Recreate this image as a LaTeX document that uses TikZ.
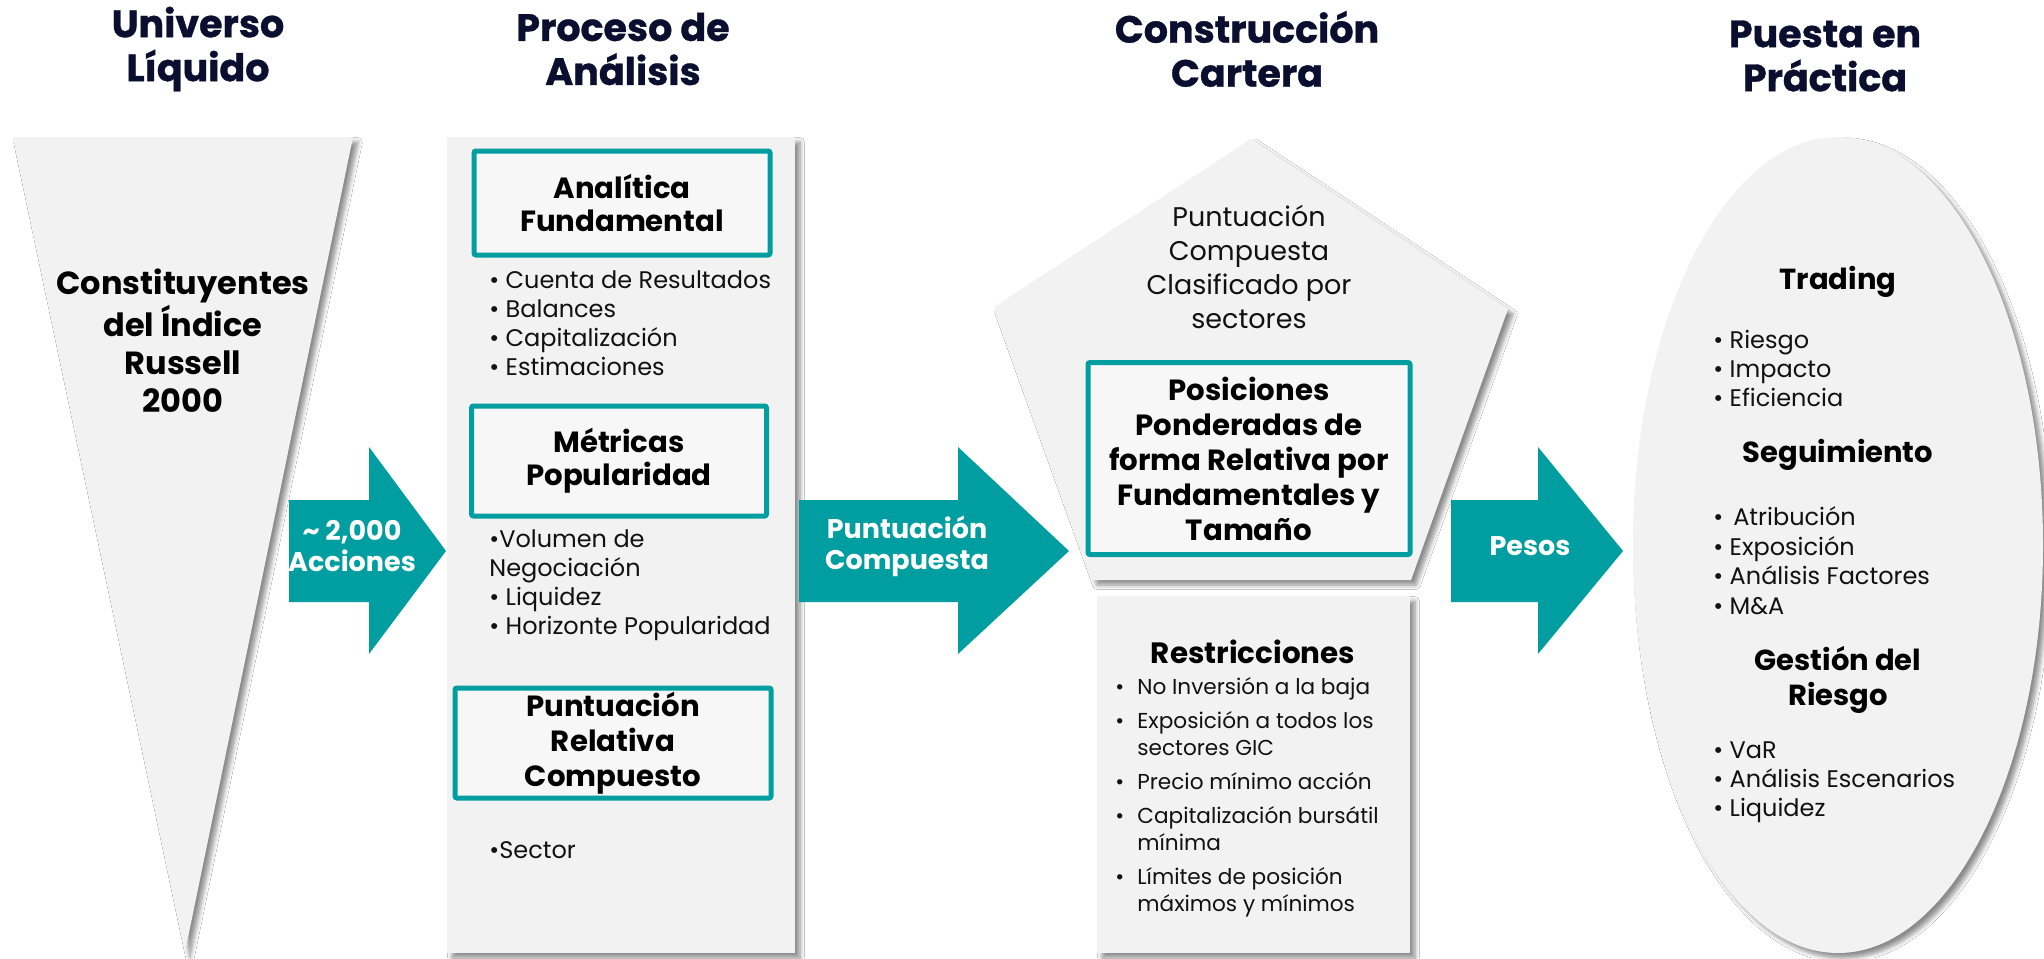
\documentclass[tikz,border=0pt]{standalone}
\usepackage{fontspec}
\setmainfont{Poppins}
\newfontfamily\heavyfont{Poppins}[BoldFeatures={FakeBold=0.9}]
\usetikzlibrary{shadows,shadows.blur}
\definecolor{tealA}{HTML}{009EA0}
\definecolor{navyA}{HTML}{0B0F2F}
\definecolor{panelA}{HTML}{F2F2F2}
\definecolor{innerA}{HTML}{F7F7F7}
\definecolor{txtA}{HTML}{111111}
\begin{document}
\begin{tikzpicture}[x=0.5pt,y=-0.5pt,
  title/.style={font=\heavyfont\bfseries\fontsize{19}{22}\selectfont, text=navyA, align=center, inner sep=0pt},
  panel/.style={fill=panelA, draw=none, blur shadow={shadow xshift=2.5pt, shadow yshift=-2.5pt, shadow blur steps=6, shadow opacity=45}},
  hbox/.style={draw=tealA, line width=2.5pt, fill=innerA, rounded corners=1pt, align=center, inner sep=0pt, text=black,
     font=\bfseries\fontsize{14.6}{16.5}\selectfont},
  blist/.style={anchor=west, align=left, inner sep=0pt, text=txtA, font=\fontsize{12}{14.5}\selectfont},
  ehead/.style={align=center, inner sep=0pt, text=black, font=\bfseries\fontsize{14.5}{17.5}\selectfont},
  arrowtxt/.style={align=center, inner sep=0pt, text=white, font=\bfseries\fontsize{13.5}{15.5}\selectfont},
  block/.style={fill=tealA, draw=none}
]
\useasboundingbox (0,0) rectangle (2044,958);
\fill[white] (0,0) rectangle (2044,958);

% titles
\node[title] (t1) at (198,49) {Universo\\Líquido};
\node[title] (t2) at (623,49) {Proceso de\\Análisis};
\node[title] (t3) at (1247,49) {Construcción\\Cartera};
\node[title] (t4) at (1825,56) {Puesta en\\Práctica};

% column 1: triangle
\path[panel] (13,137) -- (353,137) -- (185,952) -- cycle;
\node[align=center, inner sep=0pt, font=\bfseries\fontsize{16}{19}\selectfont] (tri) at (183,341)
  {Constituyentes\\del Índice\\Russell\\2000};

% arrow 1
\fill[block] (289,500) -- (369,500) -- (369,447) -- (446,551) -- (369,654) -- (369,602) -- (289,602) -- cycle;
\node[arrowtxt] (a1) at (352,546) {\textasciitilde{} 2,000\\Acciones};

% column 2: process
\path[panel] (447,137) rectangle (795,953);
\node[hbox, minimum width=148pt, minimum height=52pt] (b1) at (622,203) {Analítica\\Fundamental};
\node[blist] (l1) at (489,323.5) {• Cuenta de Resultados\\• Balances\\• Capitalización\\• Estimaciones};
\node[hbox, minimum width=147.5pt, minimum height=55pt] (b2) at (619,461) {Métricas\\Popularidad};
\node[blist] (l2) at (489,585.5) {•Volumen de\\Negociación\\• Liquidez\\• Horizonte Popularidad};
\node[hbox, minimum width=158pt, minimum height=55pt, font=\bfseries\fontsize{14.6}{17.5}\selectfont] (b3) at (613,743) {Puntuación\\Relativa\\Compuesto};
\node[blist] (l3) at (489,850) {•Sector};

% arrow 2
\fill[block] (799,500) -- (958,500) -- (958,447) -- (1069,551) -- (958,654) -- (958,602) -- (799,602) -- cycle;
\node[arrowtxt] (a2) at (907,546) {Puntuación\\Compuesta};

% column 3: pentagon
\path[panel] (1251,139) -- (1508,309) -- (1411,580) -- (1092,580) -- (994,307) -- cycle;
\node[align=center, inner sep=0pt, text=txtA, font=\fontsize{13.5}{17}\selectfont] (pt) at (1249,267)
  {Puntuación\\Compuesta\\Clasificado por\\sectores};
\node[hbox, minimum width=161pt, minimum height=96pt, font=\bfseries\fontsize{14.6}{17.5}\selectfont] (pos) at (1249,458.5)
  {Posiciones\\Ponderadas de\\forma Relativa por\\Fundamentales y\\Tamaño};
\node[panel, minimum width=156.5pt, minimum height=178.5pt, inner sep=0pt] (res) at (1253.5,774.5) {};
\node[ehead, font=\bfseries\fontsize{14.7}{17}\selectfont] (rt) at (1253,652) {Restricciones};
\node[blist, font=\fontsize{10.8}{13.5}\selectfont] (rl) at (1115,797)
  {\makebox[11pt][l]{•}No Inversión a la baja\\[3.5pt]
   \makebox[11pt][l]{•}Exposición a todos los\\\hspace*{11pt}sectores GIC\\[3.5pt]
   \makebox[11pt][l]{•}Precio mínimo acción\\[3.5pt]
   \makebox[11pt][l]{•}Capitalización bursátil\\\hspace*{11pt}mínima\\[3.5pt]
   \makebox[11pt][l]{•}Límites de posición\\\hspace*{11pt}máximos y mínimos};

% arrow 3
\fill[block] (1451,500) -- (1538,500) -- (1538,447) -- (1623,551) -- (1538,654) -- (1538,602) -- (1451,602) -- cycle;
\node[arrowtxt] (a3) at (1530,546) {Pesos};

% column 4: ellipse
\path[panel] (1838,545) ellipse [x radius=102.5pt, y radius=204pt];
\node[ehead] (e1) at (1838,282) {Trading};
\node[blist] (el1) at (1713,368) {• Riesgo\\• Impacto\\• Eficiencia};
\node[ehead] (e2) at (1838,455) {Seguimiento};
\node[blist, font=\fontsize{12}{14.75}\selectfont] (el2) at (1713,560.5) {•\hspace{5pt}Atribución\\• Exposición\\• Análisis Factores\\• M\&A};
\node[ehead] (e3) at (1838,679.5) {Gestión del\\Riesgo};
\node[blist] (el3) at (1713,782.5) {• VaR\\• Análisis Escenarios\\• Liquidez};
\end{tikzpicture}
\end{document}
